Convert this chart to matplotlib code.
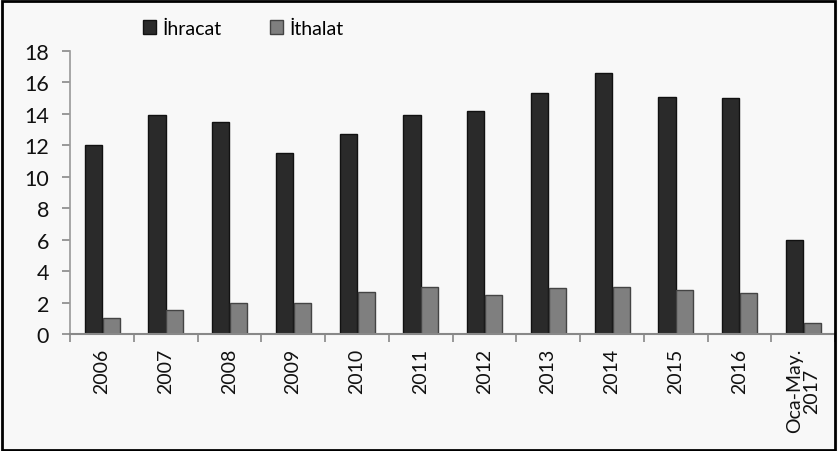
import numpy as np
import matplotlib.pyplot as plt

plt.rcParams['font.family'] = ['Lato', 'DejaVu Sans']

kategoriler = ['2006', '2007', '2008', '2009', '2010', '2011', '2012',
               '2013', '2014', '2015', '2016', 'Oca-May.\n2017']
ihracat = [12.0, 13.9, 13.5, 11.5, 12.7, 13.9, 14.2, 15.3, 16.6, 15.1, 15.0, 6.0]
ithalat = [1.0, 1.5, 2.0, 2.0, 2.7, 3.0, 2.5, 2.9, 3.0, 2.8, 2.6, 0.7]
y_ticks = [0, 2, 4, 6, 8, 10, 12, 14, 16, 18]

bg = '#f8f8f8'
fig = plt.figure(figsize=(8.38, 4.52), dpi=100, facecolor=bg)
ax = fig.add_axes([70 / 838, 117 / 452, 765 / 838, 283 / 452], facecolor=bg)

x = np.arange(len(kategoriler)) + 0.5
w = 0.27
ax.bar(x - w / 2, ihracat, w, color='#2a2a2a', edgecolor='#111111', lw=1, label='İhracat')
ax.bar(x + w / 2 + 0.01, ithalat, w, color='#7f7f7f', edgecolor='#444444', lw=1, label='İthalat')

ax.set_xlim(0, len(kategoriler))
ax.set_ylim(0, 18)
ax.set_yticks(y_ticks)
ax.set_xticks(x)
ax.set_xticklabels(kategoriler, rotation=90, fontsize=14, linespacing=0.95)
ax.set_xticks(np.arange(len(kategoriler) + 1), minor=True)
ax.tick_params(axis='x', which='major', length=0, pad=10)
ax.tick_params(axis='x', which='minor', length=6, width=1.2, color='#888888', direction='out')
ax.tick_params(axis='y', length=6, width=1.2, color='#888888', labelsize=15.5, pad=9)
for lab in ax.get_yticklabels() + ax.get_xticklabels():
    lab.set_color('#111111')

for s in ['top', 'right']:
    ax.spines[s].set_visible(False)
ax.spines['left'].set_color('#999999')
ax.spines['bottom'].set_color('#888888')
ax.spines['left'].set_linewidth(1.2)
ax.spines['bottom'].set_linewidth(1.5)

fig.legend(loc='upper left', bbox_to_anchor=(125 / 838, 1 - 3 / 452), ncol=2, frameon=False,
           fontsize=14, handlelength=0.7, handleheight=0.7, handletextpad=0.3, columnspacing=2.5)

# frame around the whole figure
fig.patches.append(plt.Rectangle((0.002, 0.003), 0.994, 0.993, transform=fig.transFigure,
                                 fill=False, edgecolor='black', lw=2))

fig.savefig('out.png', dpi=100, facecolor=bg)
